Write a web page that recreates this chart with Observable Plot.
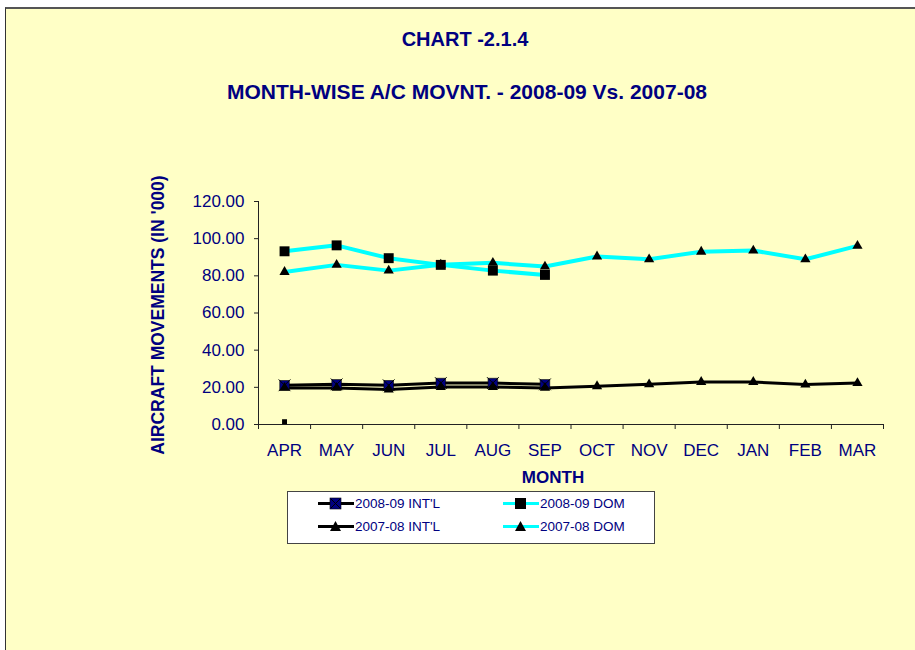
<!DOCTYPE html>
<html><head><meta charset="utf-8">
<script src="https://cdn.jsdelivr.net/npm/d3@7"></script>
<script src="https://cdn.jsdelivr.net/npm/@observablehq/plot@0.6"></script>
<style>
body{margin:0;background:#fff;font-family:"Liberation Sans",Arial,sans-serif;}
#page{position:relative;width:915px;height:650px;overflow:hidden;}
#frame{position:absolute;left:5px;top:7px;width:930px;height:660px;background:#FFFFC6;border-left:1px solid #333;border-top:2px solid #555;}
.t{position:absolute;color:#000080;font-weight:bold;white-space:nowrap;}
#plot{position:absolute;left:0;top:180px;}
#legend{position:absolute;left:287px;top:491px;width:368px;height:53px;background:#fff;border:1px solid #444;box-sizing:border-box;}
.li{position:absolute;display:flex;align-items:center;font-size:13.5px;color:#000080;white-space:nowrap;}
</style></head>
<body><div id="page"><div id="frame"></div>
<div class="t" id="title" style="left:0;width:930px;text-align:center;top:28px;font-size:20px;">CHART -2.1.4</div>
<div class="t" id="subtitle" style="left:0;width:934px;text-align:center;top:80px;font-size:21px;">MONTH-WISE A/C MOVNT. - 2008-09 Vs. 2007-08</div>
<div class="t" id="ylab" style="left:158px;top:315px;font-size:17.5px;transform:translate(-50%,-50%) rotate(-90deg);">AIRCRAFT MOVEMENTS (IN '000)</div>
<div class="t" id="xlab" style="left:553px;top:478px;font-size:17px;transform:translate(-50%,-50%);">MONTH</div>
<div id="plot"></div>
<div id="legend"></div>
</div>
<script>
const months = ["APR","MAY","JUN","JUL","AUG","SEP","OCT","NOV","DEC","JAN","FEB","MAR"];
const intl0809 = [21.1,21.6,21.1,22.3,22.3,21.6];
const dom0809 = [93.2,96.4,89.5,85.9,82.8,80.5];
const intl0708 = [19.7,19.7,18.8,20.2,20.2,19.7,20.6,21.6,22.9,22.9,21.5,22.3];
const dom0708 = [82.1,85.9,82.8,86.0,87.0,85.0,90.4,88.9,93.0,93.6,88.9,96.1];
const strayAprValue = [1.5];
const yTicks = [0,20,40,60,80,100,120];
const legendLabels = ["2008-09 INT'L","2008-09 DOM","2007-08 INT'L","2007-08 DOM"];

const toRows = arr => arr.map((v,i)=>({i, v}));
const NAVY = "#000080", CYAN = "#00FFFF";

const chart = Plot.plot({
  width: 915, height: 300,
  marginLeft: 258, marginRight: 32, marginTop: 21, marginBottom: 56,
  style: {background: "transparent", fontFamily: "'Liberation Sans', Arial, sans-serif", fontSize: "17px", overflow: "visible"},
  x: {domain: [-0.5, 11.5], axis: null},
  y: {domain: [0, 120], axis: null},
  marks: [
    Plot.axisY({ticks: yTicks, tickSize: 4, tickPadding: 10, tickFormat: d => d.toFixed(2), label: null, stroke: "#222", fill: NAVY, fontSize: 17}),
    Plot.axisX({ticks: d3.range(13).map(k => k - 0.5), tickSize: 5, tickFormat: () => "", label: null, stroke: "#222"}),
    Plot.axisX({ticks: d3.range(12), tickSize: 0, tickPadding: 19, tickFormat: i => months[i], label: null, fill: NAVY, fontSize: 17}),
    Plot.ruleX([-0.5], {y1: 0, y2: 120, stroke: "#222"}),
    Plot.ruleY([0], {x1: -0.5, x2: 11.5, stroke: "#222"}),
    Plot.line(toRows(intl0809), {x: "i", y: "v", stroke: "black", strokeWidth: 3}),
    Plot.line(toRows(dom0809), {x: "i", y: "v", stroke: CYAN, strokeWidth: 4}),
    Plot.line(toRows(intl0708), {x: "i", y: "v", stroke: "black", strokeWidth: 3}),
    Plot.line(toRows(dom0708), {x: "i", y: "v", stroke: CYAN, strokeWidth: 4}),
    Plot.dot(toRows(intl0809), {x: "i", y: "v", symbol: "square", r: 5.4, fill: NAVY, stroke: "black", strokeWidth: 0.6}),
    Plot.dot(toRows(intl0809), {x: "i", y: "v", symbol: "times", r: 5.4, stroke: "black", strokeWidth: 1}),
    Plot.dot(toRows(dom0809), {x: "i", y: "v", symbol: "square", r: 5.6, fill: "black"}),
    Plot.dot(toRows(intl0708), {x: "i", y: "v", symbol: "triangle", r: 3.8, fill: "black"}),
    Plot.dot(toRows(dom0708), {x: "i", y: "v", symbol: "triangle", r: 3.8, fill: "black"}),
    Plot.dot(toRows(strayAprValue), {x: "i", y: "v", symbol: "square", r: 2.8, fill: "black"})
  ]
});
document.getElementById("plot").appendChild(chart);

// legend
const legendStyles = [
  {line: "black", marker: "sqx"},
  {line: CYAN, marker: "sq"},
  {line: "black", marker: "tri"},
  {line: CYAN, marker: "tri"}
];
const pos = [[30,3],[215,3],[30,26],[215,26]];
const lg = document.getElementById("legend");
legendLabels.forEach((lab, k) => {
  const s = legendStyles[k];
  const div = document.createElement("div");
  div.className = "li";
  div.style.left = pos[k][0] + "px";
  div.style.top = pos[k][1] + "px";
  let mk = "";
  if (s.marker === "sq") mk = `<rect x="12" y="3" width="11" height="11" fill="black"/>`;
  if (s.marker === "sqx") mk = `<rect x="12" y="3" width="11" height="11" fill="${NAVY}" stroke="black" stroke-width="0.6"/><path d="M13 4L22 13M22 4L13 13" stroke="black" stroke-width="1"/>`;
  if (s.marker === "tri") mk = `<path d="M17.5 3L23 13L12 13Z" fill="black"/>`;
  div.innerHTML = `<svg width="36" height="17" style="margin-right:1px"><line x1="0" x2="36" y1="8.5" y2="8.5" stroke="${s.line}" stroke-width="3"/>${mk}</svg><span>${lab}</span>`;
  lg.appendChild(div);
});
</script>
</body></html>
